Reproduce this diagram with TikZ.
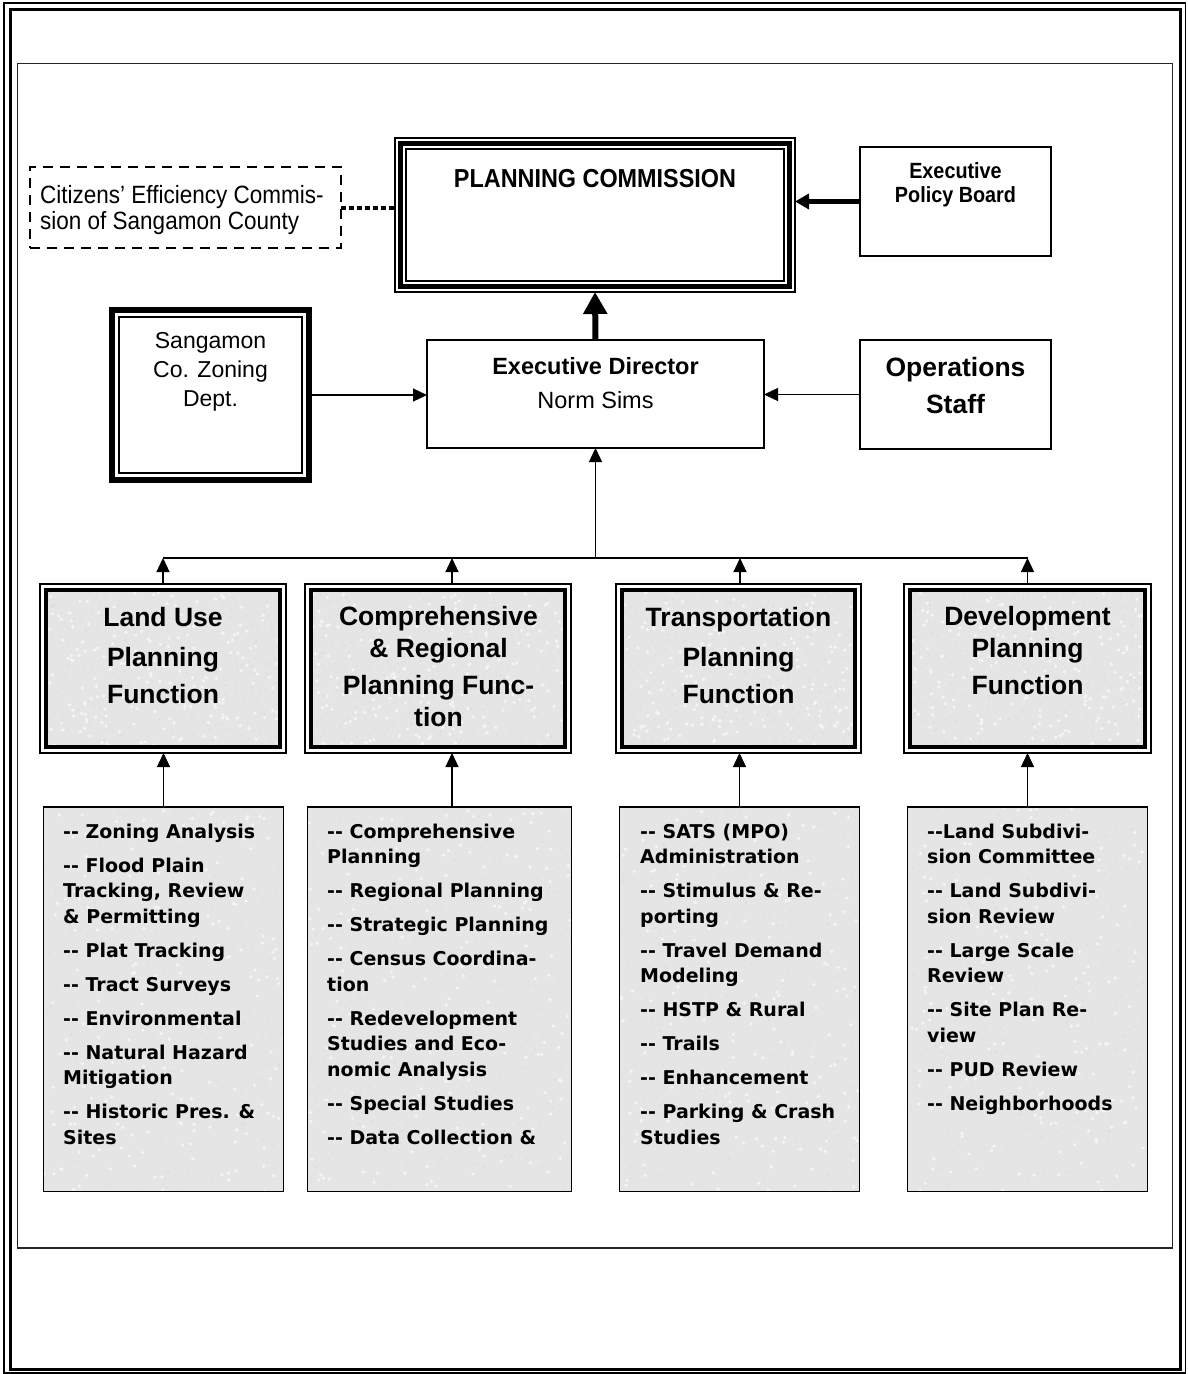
\documentclass[tikz,border=0pt]{standalone}
\usepackage{fontspec}
\setmainfont{Liberation Sans}
\newfontfamily\verd{DejaVu Sans}
\newfontfamily\narrowsans[FakeStretch=0.9]{Liberation Sans}
\usetikzlibrary{arrows.meta}
\definecolor{granitebase}{HTML}{E5E5E5}
\newcommand{\boxat}[6]{\node[#1, minimum width={(#4)-(#2)}, minimum height={(#5)-(#3)}] (#6) at ({((#2)+(#4))/2},{((#3)+(#5))/2}) {};}
\newcommand{\granite}[4]{%
 \begin{scope}
 \clip (#1,#2) rectangle (#3,#4);
 \fill[granitebase] (#1,#2) rectangle (#3,#4);
 \foreach \k in {1,...,320}{%
   \pgfmathsetmacro{\gx}{(#1)+rnd*((#3)-(#1))}%
   \pgfmathsetmacro{\gy}{(#2)+rnd*((#4)-(#2))}%
   \fill[gray!26] (\gx,\gy) circle (1.1pt);
 }
 \foreach \k in {1,...,200}{%
   \pgfmathsetmacro{\gx}{(#1)+rnd*((#3)-(#1))}%
   \pgfmathsetmacro{\gy}{(#2)+rnd*((#4)-(#2))}%
   \fill[white!92!gray] (\gx,\gy) circle (1.8pt);
 }
 \end{scope}}
\begin{document}
\begin{tikzpicture}[x=1pt,y=-1pt,
  bx/.style={draw=black, line width=1.5pt, inner sep=0pt, outer sep=0pt},
  arr/.style={line width=1.3pt, -{Triangle[length=14pt,width=13pt]}},
  bigarr/.style={line width=6pt, -{Triangle[length=22pt,width=23pt]}},
  medarr/.style={line width=4.5pt, -{Triangle[length=14pt,width=15pt]}},
  dotline/.style={line width=4pt, dash pattern=on 4.5pt off 3.5pt},
  ttl/.style={anchor=base, inner sep=0pt, font=\bfseries\fontsize{26.5}{26.5}\selectfont},
  ltxt/.style={anchor=base west, inner sep=0pt, font=\verd\bfseries\fontsize{19}{19}\selectfont},
  ctxt/.style={anchor=base, inner sep=0pt},
]
\pgfmathsetseed{4711}
\useasboundingbox (0,0) rectangle (1187,1374);
\fill[white] (0,0) rectangle (1187,1374);
% page frames
\draw[line width=1.5pt] (4,3) rectangle (1185.5,1373);
\draw[line width=3pt] (10,9.5) rectangle (1180,1369.5);
\draw[line width=1.5pt, black!85] (17.5,63.5) rectangle (1172.5,1248);

% textures
\granite{46}{590}{280}{747}
\granite{311}{590}{565}{747}
\granite{622}{590}{855}{747}
\granite{910}{590}{1145}{747}
\granite{43.5}{807}{283.5}{1191.5}
\granite{307.5}{807}{571.5}{1191.5}
\granite{619.5}{807}{859.5}{1191.5}
\granite{907.5}{807}{1147.5}{1191.5}

% top boxes
\boxat{bx, line width=2pt, dash pattern=on 10pt off 7pt}{30}{167}{341}{248}{cit}
\boxat{bx, line width=2pt}{395}{138}{795}{292}{pc}
\draw[line width=5pt] ([shift={(5.5,5.5)}]pc.north west) rectangle ([shift={(-5.5,-5.5)}]pc.south east);
\draw[line width=1.5pt] ([shift={(11,11)}]pc.north west) rectangle ([shift={(-11,-11)}]pc.south east);
\boxat{bx}{860}{147}{1051}{256}{epb}
\boxat{bx, line width=6pt}{112}{310}{309}{480}{zon}
\draw[line width=1.5pt] ([shift={(7,7)}]zon.north west) rectangle ([shift={(-7,-7)}]zon.south east);
\boxat{bx}{427}{340}{764}{448}{ed}
\boxat{bx}{860}{340}{1051}{449}{ops}

% function boxes
\boxat{bx, line width=2pt}{40}{584}{286}{753}{lu}
\boxat{bx, line width=2pt}{305}{584}{571}{753}{cr}
\boxat{bx, line width=2pt}{616}{584}{861}{753}{tr}
\boxat{bx, line width=2pt}{904}{584}{1151}{753}{dv}
\foreach \n in {lu,cr,tr,dv}{
  \draw[line width=4pt] ([shift={(6,6)}]\n.north west) rectangle ([shift={(-6,-6)}]\n.south east);
}

% list boxes
\boxat{bx}{43.5}{807}{283.5}{1191.5}{lb1}
\boxat{bx}{307.5}{807}{571.5}{1191.5}{lb2}
\boxat{bx}{619.5}{807}{859.5}{1191.5}{lb3}
\boxat{bx}{907.5}{807}{1147.5}{1191.5}{lb4}

% texts, top
\node[anchor=base west, inner sep=0pt, font=\narrowsans\fontsize{25}{25}\selectfont] (cit1) at (40,203) {Citizens’ Efficiency Commis-};
\node[anchor=base west, inner sep=0pt, font=\narrowsans\fontsize{25}{25}\selectfont] (cit2) at (40,229) {sion of Sangamon County};
\node[ctxt, font=\narrowsans\bfseries\fontsize{26}{26}\selectfont] (pct) at (595,187) {PLANNING COMMISSION};
\node[ctxt, font=\narrowsans\bfseries\fontsize{22}{22}\selectfont] (epb1) at (955.5,178.5) {Executive};
\node[ctxt, font=\narrowsans\bfseries\fontsize{22}{22}\selectfont] (epb2) at (955.5,202.5) {Policy Board};
\node[ctxt, font=\fontsize{23}{23}\selectfont] (zon1) at (210.5,348) {Sangamon};
\node[ctxt, font=\fontsize{23}{23}\selectfont] (zon2) at (210.5,377) {Co. Zoning};
\node[ctxt, font=\fontsize{23}{23}\selectfont] (zon3) at (210.5,406) {Dept.};
\node[ctxt, font=\bfseries\fontsize{23.5}{23.5}\selectfont] (ed1) at (595.5,374) {Executive Director};
\node[ctxt, font=\fontsize{23.5}{23.5}\selectfont] (ed2) at (595.5,408) {Norm Sims};
\node[ctxt, font=\bfseries\fontsize{26.5}{26.5}\selectfont] (ops1) at (955.5,376) {Operations};
\node[ctxt, font=\bfseries\fontsize{26.5}{26.5}\selectfont] (ops2) at (955.5,413) {Staff};

% function titles
\node[ttl] (lut1) at (163,626) {Land Use};
\node[ttl] (lut2) at (163,666) {Planning};
\node[ttl] (lut3) at (163,703) {Function};
\node[ttl] (crt1) at (438.5,625) {Comprehensive};
\node[ttl] (crt2) at (438.5,657) {\& Regional};
\node[ttl] (crt3) at (438.5,694) {Planning Func-};
\node[ttl] (crt4) at (438.5,726) {tion};
\node[ttl] (trt1) at (738.5,626) {Transportation};
\node[ttl] (trt2) at (738.5,666) {Planning};
\node[ttl] (trt3) at (738.5,703) {Function};
\node[ttl] (dvt1) at (1027.5,625) {Development};
\node[ttl] (dvt2) at (1027.5,657) {Planning};
\node[ttl] (dvt3) at (1027.5,694) {Function};

% list texts
\foreach \yy/\q [count=\i] in {838/{-{}- Zoning Analysis}, 872/{-{}- Flood Plain}, 897/{Tracking, Review}, 923/{\& Permitting}, 957/{-{}- Plat Tracking}, 991/{-{}- Tract Surveys}, 1025/{-{}- Environmental}, 1059/{-{}- Natural Hazard}, 1084/{Mitigation}, 1118/{-{}- Historic Pres. \&}, 1144/{Sites}}
  \node[ltxt] (la\i) at (63,\yy) {\q};
\foreach \yy/\q [count=\i] in {838/{-{}- Comprehensive}, 863/{Planning}, 897/{-{}- Regional Planning}, 931/{-{}- Strategic Planning}, 965/{-{}- Census Coordina-}, 991/{tion}, 1025/{-{}- Redevelopment}, 1050/{Studies and Eco-}, 1076/{nomic Analysis}, 1110/{-{}- Special Studies}, 1144/{-{}- Data Collection \&}}
  \node[ltxt] (lbt\i) at (327,\yy) {\q};
\foreach \yy/\q [count=\i] in {838/{-{}- SATS (MPO)}, 863/{Administration}, 897/{-{}- Stimulus \& Re-}, 923/{porting}, 957/{-{}- Travel Demand}, 982/{Modeling}, 1016/{-{}- HSTP \& Rural}, 1050/{-{}- Trails}, 1084/{-{}- Enhancement}, 1118/{-{}- Parking \& Crash}, 1144/{Studies}}
  \node[ltxt] (lc\i) at (640,\yy) {\q};
\foreach \yy/\q [count=\i] in {838/{-{}-Land Subdivi-}, 863/{sion Committee}, 897/{-{}- Land Subdivi-}, 923/{sion Review}, 957/{-{}- Large Scale}, 982/{Review}, 1016/{-{}- Site Plan Re-}, 1042/{view}, 1076/{-{}- PUD Review}, 1110/{-{}- Neighborhoods}}
  \node[ltxt] (ld\i) at (927,\yy) {\q};

% connectors
\draw[dotline] (cit.east) -- (cit.east -| pc.west);
\draw[medarr] (epb.west) -- (epb.west -| pc.east);
\draw[bigarr] (ed.north) -- (pc.south);
\draw[arr] (zon.east) -- (zon.east -| ed.west);
\draw[arr] (ops.west) -- (ops.west -| ed.east);
\coordinate (bus) at (595.5,558);
\draw[arr] (bus) -- (ed.south);
\draw[line width=1.3pt] (lu.north |- bus) -- (dv.north |- bus);
\draw[arr] (lu.north) -- (lu.north |- bus);
\draw[arr] ([xshift=14pt]cr.north) -- ([xshift=14pt]cr.north |- bus);
\draw[arr] ([xshift=1.5pt]tr.north) -- ([xshift=1.5pt]tr.north |- bus);
\draw[arr] (dv.north) -- (dv.north |- bus);
\draw[arr] (lb1.north) -- (lb1.north |- lu.south);
\draw[arr] ([xshift=12.5pt]lb2.north) -- ([xshift=12.5pt]lb2.north |- cr.south);
\draw[arr] (lb3.north) -- (lb3.north |- tr.south);
\draw[arr] (lb4.north) -- (lb4.north |- dv.south);
\end{tikzpicture}
\end{document}
